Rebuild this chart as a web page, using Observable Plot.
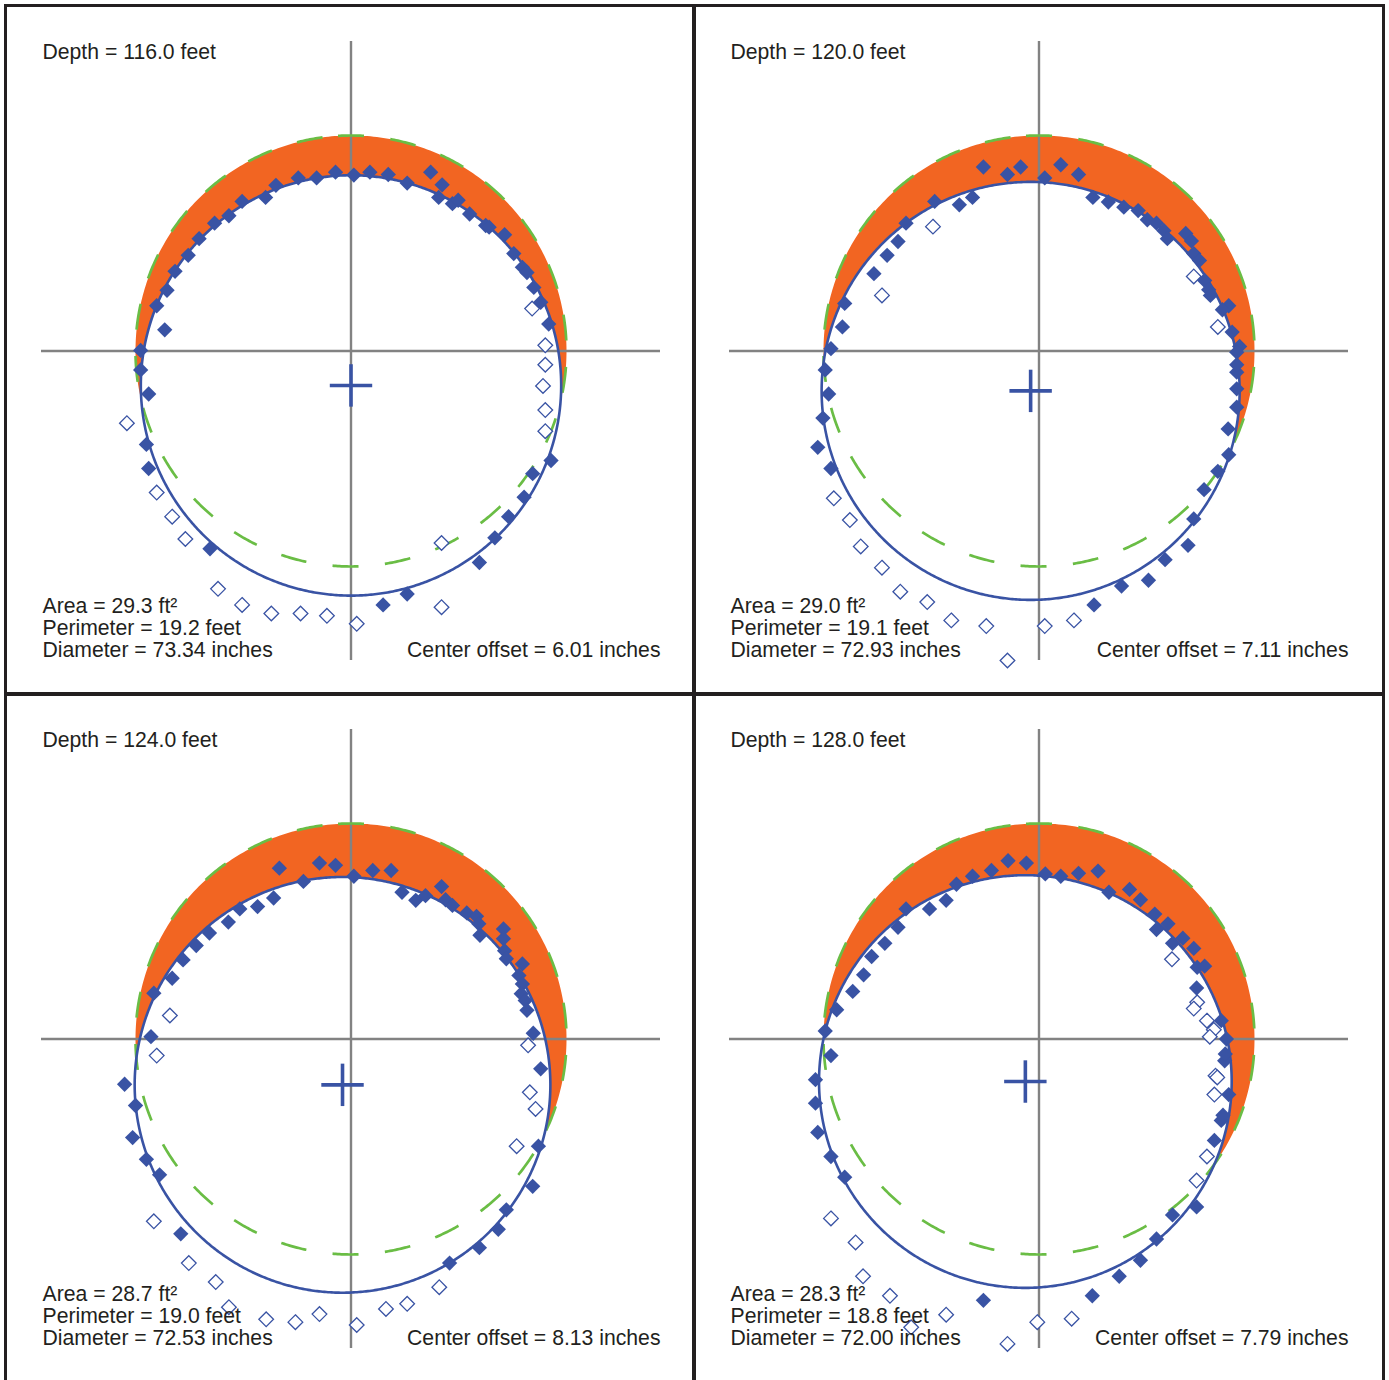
<!DOCTYPE html>
<html><head><meta charset="utf-8">
<script src="https://cdn.jsdelivr.net/npm/d3@7"></script>
<script src="https://cdn.jsdelivr.net/npm/@observablehq/plot@0.6"></script>
<style>
html,body{margin:0;padding:0;background:#fff;}
#wrap{position:relative;width:1389px;height:1380px;overflow:hidden;background:#fff;}
#wrap svg{position:absolute;}
.bar{position:absolute;background:#231f20;}
</style></head>
<body><div id="wrap"></div>
<script>
// ---- Panel values (inches, relative to nominal hole center) ----
const depths = [116.0, 120.0, 124.0, 128.0];
const areas = [29.3, 29.0, 28.7, 28.3];
const perimeters = [19.2, 19.1, 19.0, 18.8];
const diameters = [73.34, 72.93, 72.53, 72.00];
const centerOffsets = [6.01, 7.11, 8.13, 7.79];
const centerX = [0.0, -1.46, -1.48, -2.38];
const centerY = [-6.01, -6.96, -8.00, -7.42];
const nominalRadius = 37.6;

const filled116 = [[-36.7,0.1],[-32.5,3.7],[-33.9,7.9],[-32.1,10.6],[-30.7,13.9],[-28.4,16.7],[-26.5,19.6],[-23.8,22.3],[-21.3,23.6],[-19.0,26.1],[-14.9,26.8],[-13.1,28.9],[-9.2,30.2],[-6.0,30.2],[-2.7,31.2],[0.5,30.7],[3.3,31.2],[6.5,30.8],[9.8,29.3],[13.9,31.2],[15.9,29.0],[15.3,26.8],[17.7,25.7],[18.7,26.3],[20.7,23.9],[23.5,21.9],[24.1,21.6],[26.8,20.3],[28.4,17.0],[29.9,14.6],[30.7,13.7],[31.9,11.1],[33.1,8.5],[34.5,4.7],[-36.7,-3.3],[-35.3,-7.5],[-35.7,-16.3],[-35.3,-20.5],[-24.6,-34.5],[5.6,-44.3],[9.8,-42.4],[22.4,-36.9],[25.1,-32.6],[27.5,-28.9],[30.2,-25.5],[31.7,-21.4],[34.9,-19.1]];
const open116 = [[31.6,7.4],[33.9,1.0],[33.9,-2.4],[33.5,-6.1],[33.9,-10.3],[33.9,-14.0],[-39.1,-12.6],[-33.9,-24.7],[-31.2,-28.9],[-28.9,-32.8],[-23.2,-41.5],[-19.0,-44.3],[-13.9,-45.8],[-8.8,-45.8],[-4.2,-46.2],[1.0,-47.6],[15.8,-33.5],[15.8,-44.7]];

const filled120 = [[-36.3,0.4],[-34.3,4.2],[-33.9,8.3],[-28.8,13.5],[-26.5,16.7],[-24.6,19.1],[-23.2,22.3],[-18.2,26.1],[-13.9,25.5],[-11.6,26.8],[-9.7,32.1],[-5.5,30.8],[-3.2,32.1],[1.0,30.2],[3.8,32.5],[6.9,30.8],[9.4,26.8],[12.1,26.0],[14.8,25.1],[17.3,24.5],[18.9,22.9],[20.5,22.3],[21.8,21.0],[22.4,19.6],[25.6,20.5],[26.6,19.2],[27.0,17.0],[28.0,15.8],[28.9,12.3],[29.6,10.7],[29.9,9.7],[33.1,7.9],[32.0,7.2],[33.7,3.3],[35.0,0.8],[34.5,-0.2],[-37.3,-3.3],[-36.7,-7.5],[-37.7,-11.7],[-38.6,-16.8],[-36.3,-20.5],[9.6,-44.3],[14.4,-41.0],[19.1,-40.0],[22.0,-36.4],[26.0,-33.9],[27.0,-29.3],[28.8,-24.2],[31.2,-21.0],[33.1,-18.1],[33.0,-13.6],[34.5,-9.8],[34.5,-6.6],[34.5,-3.7],[34.5,-2.4]];
const open120 = [[-18.5,21.7],[-27.4,9.7],[27.0,13.0],[31.2,4.2],[-35.8,-25.7],[-33.0,-29.5],[-31.1,-34.1],[-27.4,-37.8],[-24.2,-42.0],[-19.5,-43.8],[-15.3,-47.0],[-9.2,-48.0],[-5.5,-54.0],[1.0,-48.0],[6.1,-47.0]];

const filled124 = [[-34.9,0.4],[-34.4,8.0],[-31.2,10.6],[-29.3,13.8],[-27.0,16.3],[-24.7,18.5],[-21.4,20.4],[-19.4,22.7],[-16.3,23.1],[-13.5,24.6],[-12.5,29.8],[-8.3,27.5],[-5.5,30.7],[-2.7,30.3],[0.5,28.4],[3.8,29.4],[7.0,29.4],[8.9,25.6],[11.3,24.2],[13.0,25.0],[15.8,26.6],[16.5,24.3],[17.7,23.3],[20.2,22.0],[21.9,21.4],[22.3,20.1],[22.5,18.1],[26.6,19.2],[26.6,17.5],[26.8,15.4],[27.1,14.0],[29.9,13.1],[29.3,11.1],[29.9,9.6],[29.7,7.9],[30.4,6.7],[30.7,5.0],[31.8,1.0],[-39.5,-7.9],[-37.6,-11.6],[-38.1,-17.2],[-35.7,-21.0],[-33.4,-23.7],[-29.7,-34.0],[17.2,-39.1],[22.4,-36.4],[25.7,-33.2],[27.1,-29.8],[31.7,-25.7],[32.7,-18.7],[33.1,-5.2]];
const open124 = [[-31.6,4.1],[-33.9,-2.9],[30.9,-1.1],[-34.4,-31.8],[-28.3,-39.1],[-23.6,-42.4],[-21.3,-46.8],[-14.8,-48.9],[-9.7,-49.4],[-5.5,-48.0],[1.0,-49.9],[6.1,-47.1],[9.8,-46.2],[15.4,-43.3],[28.9,-18.7],[32.2,-12.2],[31.2,-9.3]];

const filled128 = [[-37.3,1.4],[-35.3,5.1],[-32.5,8.3],[-30.6,11.2],[-29.2,14.4],[-26.9,16.7],[-24.6,19.5],[-23.2,22.7],[-19.1,22.7],[-16.2,24.2],[-14.4,27.0],[-11.6,28.4],[-8.3,29.4],[-5.4,31.1],[-2.2,30.7],[1.1,28.8],[3.8,28.4],[6.9,28.9],[10.3,29.3],[12.2,25.6],[15.8,26.1],[17.7,24.3],[20.2,21.8],[20.5,19.1],[22.5,20.1],[23.3,16.7],[25.1,17.6],[27.0,15.8],[27.6,12.5],[28.9,12.7],[27.5,8.9],[31.8,3.2],[32.7,0.0],[-36.3,-2.9],[-39.0,-7.1],[-39.0,-11.2],[-38.6,-16.3],[-36.3,-20.5],[-33.9,-24.1],[-9.7,-45.6],[9.3,-44.8],[14.0,-41.4],[17.7,-38.6],[20.5,-34.9],[23.3,-30.7],[27.5,-29.3],[30.6,-17.7],[31.8,-14.2],[32.1,-13.3],[33.1,-9.7],[32.4,-3.8],[32.5,-2.6]];
const open128 = [[23.2,13.9],[27.6,6.4],[27.0,5.3],[29.3,3.2],[30.5,1.6],[29.8,0.4],[30.8,-6.4],[31.1,-6.7],[30.6,-9.7],[29.3,-20.5],[27.5,-24.7],[-36.3,-31.3],[-32.0,-35.5],[-30.7,-41.4],[-26.0,-44.8],[-22.3,-50.3],[-16.2,-48.1],[-5.5,-53.2],[-0.3,-49.4],[5.7,-48.8]];

const filledSets = [filled116, filled120, filled124, filled128];
const openSets = [open116, open120, open124, open128];

// ---- styles ----
const BLUE = "#3953a4", ORANGE = "#f26522", GREEN = "#6abd45", GRAY = "#828282", TXT = "#231f20";
const FONT = "'Liberation Sans', Arial, Helvetica, sans-serif";
const EXTENT = 54, CROSS = 3.7, PANEL = 688;

function circlePts(cx, cy, r, t0, t1, n) {
  return d3.range(n + 1).map(k => {
    const t = t0 + (t1 - t0) * k / n;
    return [cx + r * Math.cos(t), cy + r * Math.sin(t)];
  });
}

function crescent(cx, cy, r, R) {
  const d = Math.hypot(cx, cy);
  const ux = cx / d, uy = cy / d;
  const a = (R * R - r * r + d * d) / (2 * d);
  const clamp = v => Math.max(-1, Math.min(1, v));
  const beta = Math.acos(clamp(a / R));
  const gamma = Math.acos(clamp((d - a) / r));
  const phi = Math.atan2(-uy, -ux);
  const outer = circlePts(0, 0, R, phi - (Math.PI - beta), phi + (Math.PI - beta), 240);
  const inner = circlePts(cx, cy, r, phi + gamma, phi - gamma, 240);
  return outer.concat(inner);
}

function panel(i) {
  const cx = centerX[i], cy = centerY[i], r = diameters[i] / 2, R = nominalRadius;
  const green = circlePts(0, 0, R, Math.PI / 2 + 13 / 215.5, Math.PI / 2 + 13 / 215.5 - 2 * Math.PI, 720);
  const blue = circlePts(cx, cy, r, 0, 2 * Math.PI, 720);
  const center = [{cx, cy}];
  const statText = `Area = ${areas[i].toFixed(1)} ft²\nPerimeter = ${perimeters[i].toFixed(1)} feet\nDiameter = ${diameters[i].toFixed(2)} inches`;
  return Plot.plot({
    width: PANEL, height: PANEL,
    marginLeft: 41, marginRight: 28, marginTop: 41, marginBottom: 28,
    style: {fontFamily: FONT, background: "transparent"},
    x: {domain: [-EXTENT, EXTENT], axis: null},
    y: {domain: [-EXTENT, EXTENT], axis: null},
    marks: [
      Plot.line(crescent(cx, cy, r, R), {x: d => d[0], y: d => d[1], fill: ORANGE, stroke: "none", curve: "linear-closed"}),
      Plot.ruleX([0], {stroke: GRAY, strokeWidth: 2.4}),
      Plot.ruleY([0], {stroke: GRAY, strokeWidth: 2.4}),
      Plot.line(green, {x: d => d[0], y: d => d[1], stroke: GREEN, strokeWidth: 2.7, strokeDasharray: "26,26.5", strokeLinecap: "butt"}),
      Plot.line(blue, {x: d => d[0], y: d => d[1], stroke: BLUE, strokeWidth: 2.6}),
      Plot.link(center, {x1: d => d.cx - CROSS, x2: d => d.cx + CROSS, y1: d => d.cy, y2: d => d.cy, stroke: BLUE, strokeWidth: 3.6, strokeLinecap: "butt"}),
      Plot.link(center, {x1: d => d.cx, x2: d => d.cx, y1: d => d.cy - CROSS, y2: d => d.cy + CROSS, stroke: BLUE, strokeWidth: 3.6, strokeLinecap: "butt"}),
      Plot.dot(openSets[i], {x: d => d[0], y: d => d[1], symbol: "diamond2", r: 6.6, stroke: BLUE, strokeWidth: 1.3, fill: "white"}),
      Plot.dot(filledSets[i], {x: d => d[0], y: d => d[1], symbol: "diamond2", r: 6.9, fill: BLUE, stroke: "none"}),
      Plot.text([`Depth = ${depths[i].toFixed(1)} feet`], {text: d => d, frameAnchor: "top-left", dx: 1, dy: 17.5, lineAnchor: "bottom", fontSize: 21.2, fill: TXT, fontFamily: FONT}),
      Plot.text([statText], {text: d => d, frameAnchor: "bottom-left", dx: 1, dy: -4, lineAnchor: "bottom", lineHeight: 1.03, fontSize: 21.2, fill: TXT, fontFamily: FONT}),
      Plot.text([`Center offset = ${centerOffsets[i].toFixed(2)} inches`], {text: d => d, frameAnchor: "bottom-right", dx: 0, dy: -4, lineAnchor: "bottom", fontSize: 21.2, fill: TXT, fontFamily: FONT})
    ]
  });
}

const wrap = document.getElementById("wrap");
for (let i = 0; i < 4; i++) {
  const svg = panel(i);
  svg.style.left = (i % 2) * PANEL + "px";
  svg.style.top = Math.floor(i / 2) * PANEL + "px";
  wrap.appendChild(svg);
}
// panel frame lines
const bars = [
  {l: 4, t: 4, w: 3, h: 1380}, {l: 692, t: 4, w: 4, h: 1380}, {l: 1382, t: 4, w: 3, h: 1380},
  {l: 4, t: 4, w: 1381, h: 3}, {l: 4, t: 692, w: 1381, h: 4}, {l: 4, t: 1380, w: 1381, h: 3}
];
for (const b of bars) {
  const el = document.createElement("div");
  el.className = "bar";
  Object.assign(el.style, {left: b.l + "px", top: b.t + "px", width: b.w + "px", height: b.h + "px"});
  wrap.appendChild(el);
}
</script>
</body></html>
